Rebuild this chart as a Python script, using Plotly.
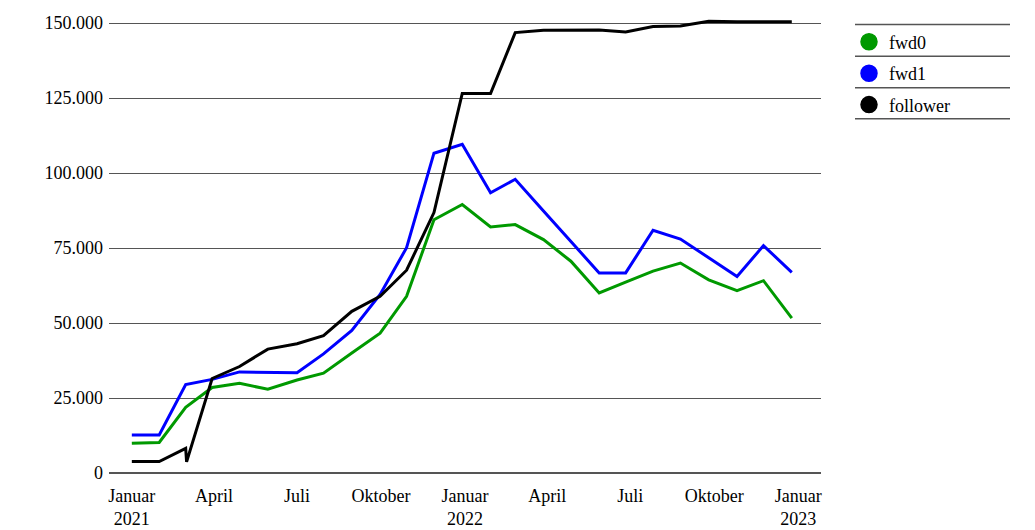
import plotly.graph_objects as go

# ---- data ----
dates_fwd = ["2021-01-01", "2021-01-31", "2021-03-01", "2021-03-30", "2021-04-29",
             "2021-05-30", "2021-07-01", "2021-07-30", "2021-08-30", "2021-09-30",
             "2021-10-29", "2021-11-28", "2021-12-29", "2022-01-29", "2022-02-25",
             "2022-03-28", "2022-04-27", "2022-05-28", "2022-06-26", "2022-07-26",
             "2022-08-25", "2022-09-25", "2022-10-26", "2022-11-24", "2022-12-25"]

fwd0 = [9900, 10200, 21900, 28500, 29900, 27900, 31000, 33300, 40000, 46600,
        58900, 84400, 89500, 82000, 82800, 77800, 70600, 60000, 63600, 67300,
        70000, 64400, 60800, 64100, 51600]

fwd1 = [12700, 12700, 29500, 31200, 33700, 33600, 33400, 39700, 47500, 59500,
        75100, 106600, 109600, 93400, 97900, 87300, 77300, 66700, 66700, 80900,
        78000, 71700, 65500, 75800, 66900]

dates_follower = ["2021-01-01", "2021-01-31", "2021-03-01", "2021-03-02", "2021-03-30",
                  "2021-04-29", "2021-05-30", "2021-07-01", "2021-07-30", "2021-08-30",
                  "2021-09-30", "2021-10-29", "2021-11-28", "2021-12-29", "2022-01-29",
                  "2022-02-25", "2022-03-28", "2022-04-27", "2022-05-28", "2022-06-26",
                  "2022-07-26", "2022-08-25", "2022-09-25", "2022-10-26", "2022-11-24",
                  "2022-12-25"]

follower = [3800, 3800, 8200, 3700, 31500, 35500, 41300, 43100, 45800, 53900,
            58900, 67600, 86800, 126500, 126500, 146800, 147600, 147700, 147700, 147000,
            148800, 149000, 150600, 150400, 150400, 150400]

x_tick_vals = ["2021-01-01", "2021-04-01", "2021-07-01", "2021-10-01", "2022-01-01",
               "2022-04-01", "2022-07-01", "2022-10-01", "2023-01-01"]
x_tick_text = ["Januar<br>2021", "April", "Juli", "Oktober", "Januar<br>2022",
               "April", "Juli", "Oktober", "Januar<br>2023"]
y_tick_vals = [0, 25000, 50000, 75000, 100000, 125000, 150000]

series = [
    ("fwd0", dates_fwd, fwd0, "#009900"),
    ("fwd1", dates_fwd, fwd1, "#0000ff"),
    ("follower", dates_follower, follower, "#000000"),
]

FONT = "Liberation Serif, Times New Roman, serif"

fig = go.Figure()
for name, xs, ys, col in series:
    fig.add_trace(go.Scatter(x=xs, y=ys, mode="lines", name=name,
                             line=dict(color=col, width=3),
                             showlegend=False, hoverinfo="x+y+name"))
for name, xs, ys, col in series:
    fig.add_trace(go.Scatter(x=[None], y=[None], mode="markers", name=name,
                             marker=dict(color=col, size=16,
                                         line=dict(color=col, width=1.5)),
                             legendgroup=name, showlegend=True))

W, H = 1035, 530
left, right = 109, 821          # pixel positions of plot area
top, bottom = 17.4, 472.7
ph = bottom - top

def py(v):
    return (bottom - v) / ph

def px(v):
    return (v - left) / (right - left)

shapes = []
for yy in [25, 56.5, 88, 119]:
    shapes.append(dict(type="line", xref="paper", yref="paper",
                       x0=px(855), x1=px(1010), y0=py(yy), y1=py(yy),
                       line=dict(color="#555555", width=1.5)))

fig.update_layout(
    width=W, height=H,
    margin=dict(l=left, r=W - right, t=top, b=H - bottom, pad=0),
    paper_bgcolor="white", plot_bgcolor="white",
    font=dict(family=FONT, size=18, color="black"),
    separators=",.",
    showlegend=True,
    legend=dict(x=px(849), xanchor="left", y=py(24), yanchor="top",
                font=dict(family=FONT, size=18, color="black"),
                bgcolor="rgba(0,0,0,0)", tracegroupgap=5,
                itemsizing="trace"),
    shapes=shapes,
    xaxis=dict(type="date", range=["2020-12-07", "2023-01-26"],
               tickvals=x_tick_vals, ticktext=x_tick_text,
               showgrid=False, showline=False, zeroline=False, ticks="",
               ticklabelstandoff=10, automargin=False,
               tickfont=dict(family=FONT, size=18, color="black")),
    yaxis=dict(range=[0, 152000], tickvals=y_tick_vals, tickformat=",d",
               showgrid=True, gridcolor="#555555", gridwidth=1.2,
               zeroline=True, zerolinecolor="#555555", zerolinewidth=1.5,
               showline=False, ticks="", automargin=False,
               ticklabelstandoff=5,
               tickfont=dict(family=FONT, size=18, color="black")),
)

fig.write_html("out.html",
               config={"displayModeBar": False},
               post_script="document.body.style.margin='0';document.body.style.overflow='hidden';")
